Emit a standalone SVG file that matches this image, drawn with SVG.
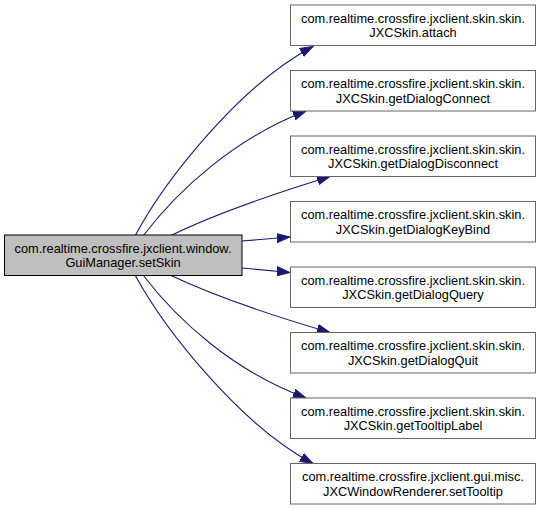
<svg xmlns="http://www.w3.org/2000/svg" width="540" height="509" viewBox="0 0 540 509">
<defs>
<style>
.n rect{fill:#ffffff;stroke:#666666;stroke-width:1}
.root rect{fill:#bfbfbf;stroke:#000000;stroke-width:1}
text{font-family:"Liberation Sans",Arial,sans-serif;font-size:12.8px;fill:#000000;text-anchor:middle}
.e path{fill:none;stroke:#191970;stroke-width:1.1}
</style>
<marker id="ah" markerUnits="userSpaceOnUse" markerWidth="14" markerHeight="10" refX="13" refY="5" orient="auto" viewBox="0 0 14 10">
<polygon points="0,0.5 13,5 0,9.5" fill="#191970" stroke="#191970"/>
</marker>
</defs>
<rect width="540" height="509" fill="#ffffff"/>
<g id="edges" class="e">
<path d="M135,236 C165,180 240,85 313,46.5" marker-end="url(#ah)"/>
<path d="M143,236 C178,190 235,138 306,111" marker-end="url(#ah)"/>
<path d="M170,236 C210,216 270,195 330,176.5" marker-end="url(#ah)"/>
<path d="M242,241 L290,237" marker-end="url(#ah)"/>
<path d="M242,268 L290,272.5" marker-end="url(#ah)"/>
<path d="M170,275 C210,294 270,315 330,332.5" marker-end="url(#ah)"/>
<path d="M143,275 C178,321 235,372 306,398" marker-end="url(#ah)"/>
<path d="M135,275 C165,330 240,425 313,463.5" marker-end="url(#ah)"/>
</g>
<g id="root" class="root">
<rect x="4.5" y="235" width="237.5" height="40.5"/>
<text x="123" y="252.5">com.realtime.crossfire.jxclient.window.</text>
<text x="123" y="267">GuiManager.setSkin</text>
</g>
<g id="n1" class="n">
<rect x="290.5" y="5" width="245" height="40.5"/>
<text x="413" y="22.5">com.realtime.crossfire.jxclient.skin.skin.</text>
<text x="413" y="37">JXCSkin.attach</text>
</g>
<g id="n2" class="n">
<rect x="290.5" y="70.5" width="245" height="40.5"/>
<text x="413" y="88">com.realtime.crossfire.jxclient.skin.skin.</text>
<text x="413" y="102.5">JXCSkin.getDialogConnect</text>
</g>
<g id="n3" class="n">
<rect x="290.5" y="136" width="245" height="40.5"/>
<text x="413" y="153.5">com.realtime.crossfire.jxclient.skin.skin.</text>
<text x="413" y="168">JXCSkin.getDialogDisconnect</text>
</g>
<g id="n4" class="n">
<rect x="290.5" y="201.5" width="245" height="40.5"/>
<text x="413" y="219">com.realtime.crossfire.jxclient.skin.skin.</text>
<text x="413" y="233.5">JXCSkin.getDialogKeyBind</text>
</g>
<g id="n5" class="n">
<rect x="290.5" y="267" width="245" height="40.5"/>
<text x="413" y="284.5">com.realtime.crossfire.jxclient.skin.skin.</text>
<text x="413" y="299">JXCSkin.getDialogQuery</text>
</g>
<g id="n6" class="n">
<rect x="290.5" y="332.5" width="245" height="40.5"/>
<text x="413" y="350">com.realtime.crossfire.jxclient.skin.skin.</text>
<text x="413" y="364.5">JXCSkin.getDialogQuit</text>
</g>
<g id="n7" class="n">
<rect x="290.5" y="398" width="245" height="40.5"/>
<text x="413" y="415.5">com.realtime.crossfire.jxclient.skin.skin.</text>
<text x="413" y="430">JXCSkin.getTooltipLabel</text>
</g>
<g id="n8" class="n">
<rect x="290.5" y="463.5" width="245" height="40.5"/>
<text x="413" y="481">com.realtime.crossfire.jxclient.gui.misc.</text>
<text x="413" y="495.5">JXCWindowRenderer.setTooltip</text>
</g>
</svg>
